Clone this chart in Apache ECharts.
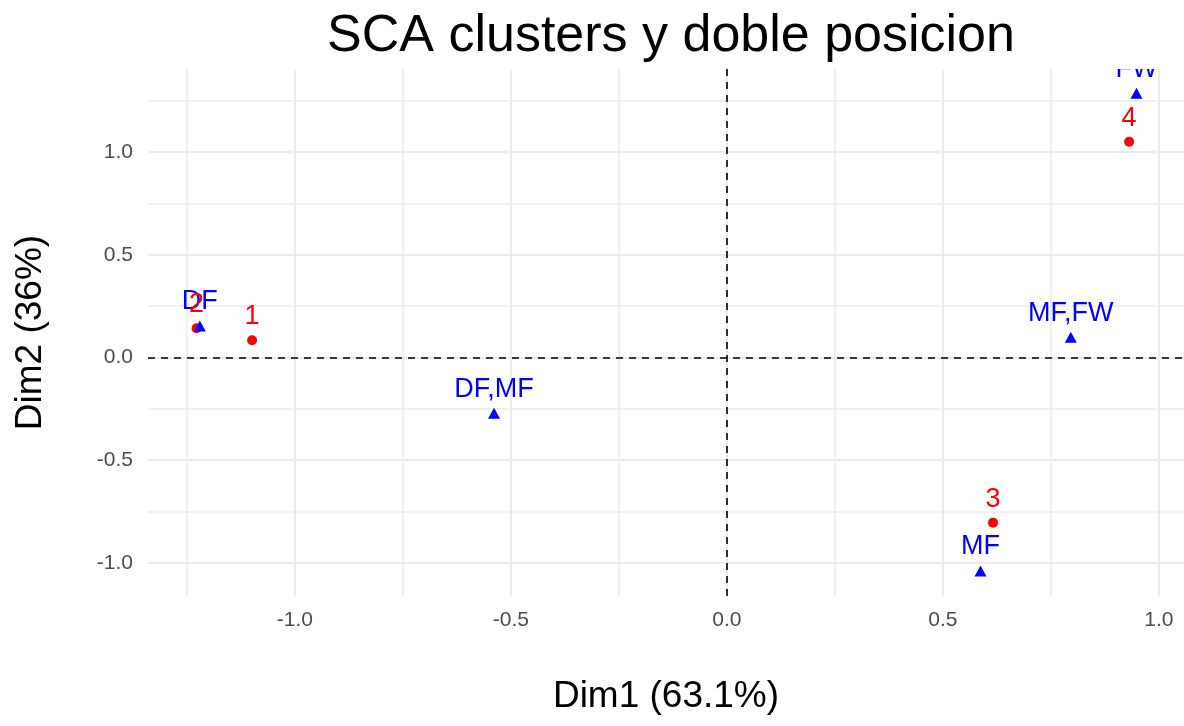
<!DOCTYPE html>
<html>
<head>
<meta charset="utf-8">
<title>SCA clusters y doble posicion</title>
<script src="https://cdn.jsdelivr.net/npm/echarts@6/dist/echarts.min.js"></script>
<style>
  html, body { margin: 0; padding: 0; background: #ffffff; }
  #chart { width: 1184px; height: 726px; }
</style>
</head>
<body>
<div id="chart"></div>
<script>
// Cluster centres (red circles)
const clusterNames = ['1', '2', '3', '4'];
const clusterX = [-1.099, -1.2275, 0.616, 0.931];
const clusterY = [0.084, 0.142, -0.804, 1.050];

// Position groups (blue triangles)
const posNames = ['DF', 'DF,MF', 'MF', 'MF,FW', 'FW'];
const posX = [-1.220, -0.539, 0.587, 0.796, 0.948];
const posY = [0.153, -0.272, -1.039, 0.098, 1.286];

// Axis ranges and break values
const xRange = [-1.340, 1.058];
const yRange = [-1.161, 1.404];
const xMajor = [-1.0, -0.5, 0.0, 0.5, 1.0];
const xMinor = [-1.25, -0.75, -0.25, 0.25, 0.75];
const yMajor = [-1.0, -0.5, 0.0, 0.5, 1.0];
const yMinor = [-0.75, -0.25, 0.25, 0.75, 1.25];

const FONT = '"Liberation Sans", Arial, sans-serif';
const GRID_COLOR = '#EBEBEB';

function pairs(xs, ys, names) {
  return xs.map((x, i) => ({ value: [x, ys[i]], name: names[i] }));
}

const chart = echarts.init(document.getElementById('chart'), null, { renderer: 'canvas' });

const fmt = v => Number(v).toFixed(1);

const option = {
  backgroundColor: '#ffffff',
  animation: false,
  title: {
    text: 'SCA clusters y doble posicion',
    left: 666,
    top: 6,
    textAlign: 'center',
    z: 100,
    textStyle: { fontFamily: FONT, fontSize: 52, fontWeight: 'normal', color: '#000000' }
  },
  grid: { left: 148, right: 0, top: 69, bottom: 130, containLabel: false, outerBoundsMode: 'none' },
  xAxis: [
    {
      type: 'value',
      min: xRange[0], max: xRange[1],
      name: 'Dim1 (63.1%)',
      nameLocation: 'middle',
      nameGap: 82,
      nameTextStyle: { fontFamily: FONT, fontSize: 37, color: '#000000' },
      axisLine: { show: false },
      axisTick: { show: false, customValues: xMajor },
      axisLabel: { customValues: xMajor, formatter: fmt, margin: 14,
                   fontFamily: FONT, fontSize: 21, color: '#4D4D4D' },
      splitLine: { show: true, lineStyle: { color: GRID_COLOR, width: 2 } }
    },
    {
      type: 'value',
      min: xRange[0], max: xRange[1],
      position: 'bottom',
      axisLine: { show: false },
      axisTick: { show: false, customValues: xMinor },
      axisLabel: { show: false, customValues: xMinor },
      splitLine: { show: true, lineStyle: { color: GRID_COLOR, width: 1.5 } }
    }
  ],
  yAxis: [
    {
      type: 'value',
      min: yRange[0], max: yRange[1],
      name: 'Dim2 (36%)',
      nameLocation: 'middle',
      nameGap: 99,
      nameTextStyle: { fontFamily: FONT, fontSize: 37, color: '#000000' },
      axisLine: { show: false },
      axisTick: { show: false, customValues: yMajor },
      axisLabel: { customValues: yMajor, formatter: fmt, margin: 15,
                   fontFamily: FONT, fontSize: 21, color: '#4D4D4D' },
      splitLine: { show: true, lineStyle: { color: GRID_COLOR, width: 2 } }
    },
    {
      type: 'value',
      min: yRange[0], max: yRange[1],
      position: 'left',
      axisLine: { show: false },
      axisTick: { show: false, customValues: yMinor },
      axisLabel: { show: false, customValues: yMinor },
      splitLine: { show: true, lineStyle: { color: GRID_COLOR, width: 1.5 } }
    }
  ],
  graphic: [
    {
      // keeps labels inside the panel: anything above the plotting area is hidden
      type: 'rect',
      left: 0, top: 0, z: 50,
      shape: { width: 1184, height: 69 },
      style: { fill: '#ffffff' }
    }
  ],
  series: [
    {
      // reference lines through the origin
      type: 'scatter',
      xAxisIndex: 0, yAxisIndex: 0,
      data: [],
      z: 1,
      markLine: {
        silent: true,
        symbol: 'none',
        label: { show: false },
        lineStyle: { color: '#000000', type: [7, 6], width: 1.6 },
        data: [{ xAxis: 0 }, { yAxis: 0 }]
      }
    },
    {
      name: 'clusters',
      type: 'scatter',
      xAxisIndex: 0, yAxisIndex: 0,
      z: 2,
      symbol: 'circle',
      symbolSize: 10,
      itemStyle: { color: '#FF0000', opacity: 1 },
      data: pairs(clusterX, clusterY, clusterNames)
    },
    {
      name: 'posiciones',
      type: 'scatter',
      xAxisIndex: 0, yAxisIndex: 0,
      z: 3,
      symbol: 'triangle',
      symbolSize: [12, 11],
      itemStyle: { color: '#0000FF', opacity: 1 },
      label: {
        show: true, position: 'top', distance: 5,
        formatter: p => p.name,
        fontFamily: FONT, fontSize: 27, color: '#0000FF'
      },
      data: pairs(posX, posY, posNames)
    },
    {
      // cluster numbers drawn above everything else
      name: 'clusters-text',
      type: 'scatter',
      xAxisIndex: 0, yAxisIndex: 0,
      z: 4,
      symbol: 'circle',
      symbolSize: 10,
      itemStyle: { color: '#FF0000', opacity: 0 },
      label: {
        show: true, position: 'top', distance: 5,
        formatter: p => p.name,
        fontFamily: FONT, fontSize: 27, color: '#FF0000', opacity: 1
      },
      data: pairs(clusterX, clusterY, clusterNames)
    }
  ]
};

chart.setOption(option);
</script>
</body>
</html>
